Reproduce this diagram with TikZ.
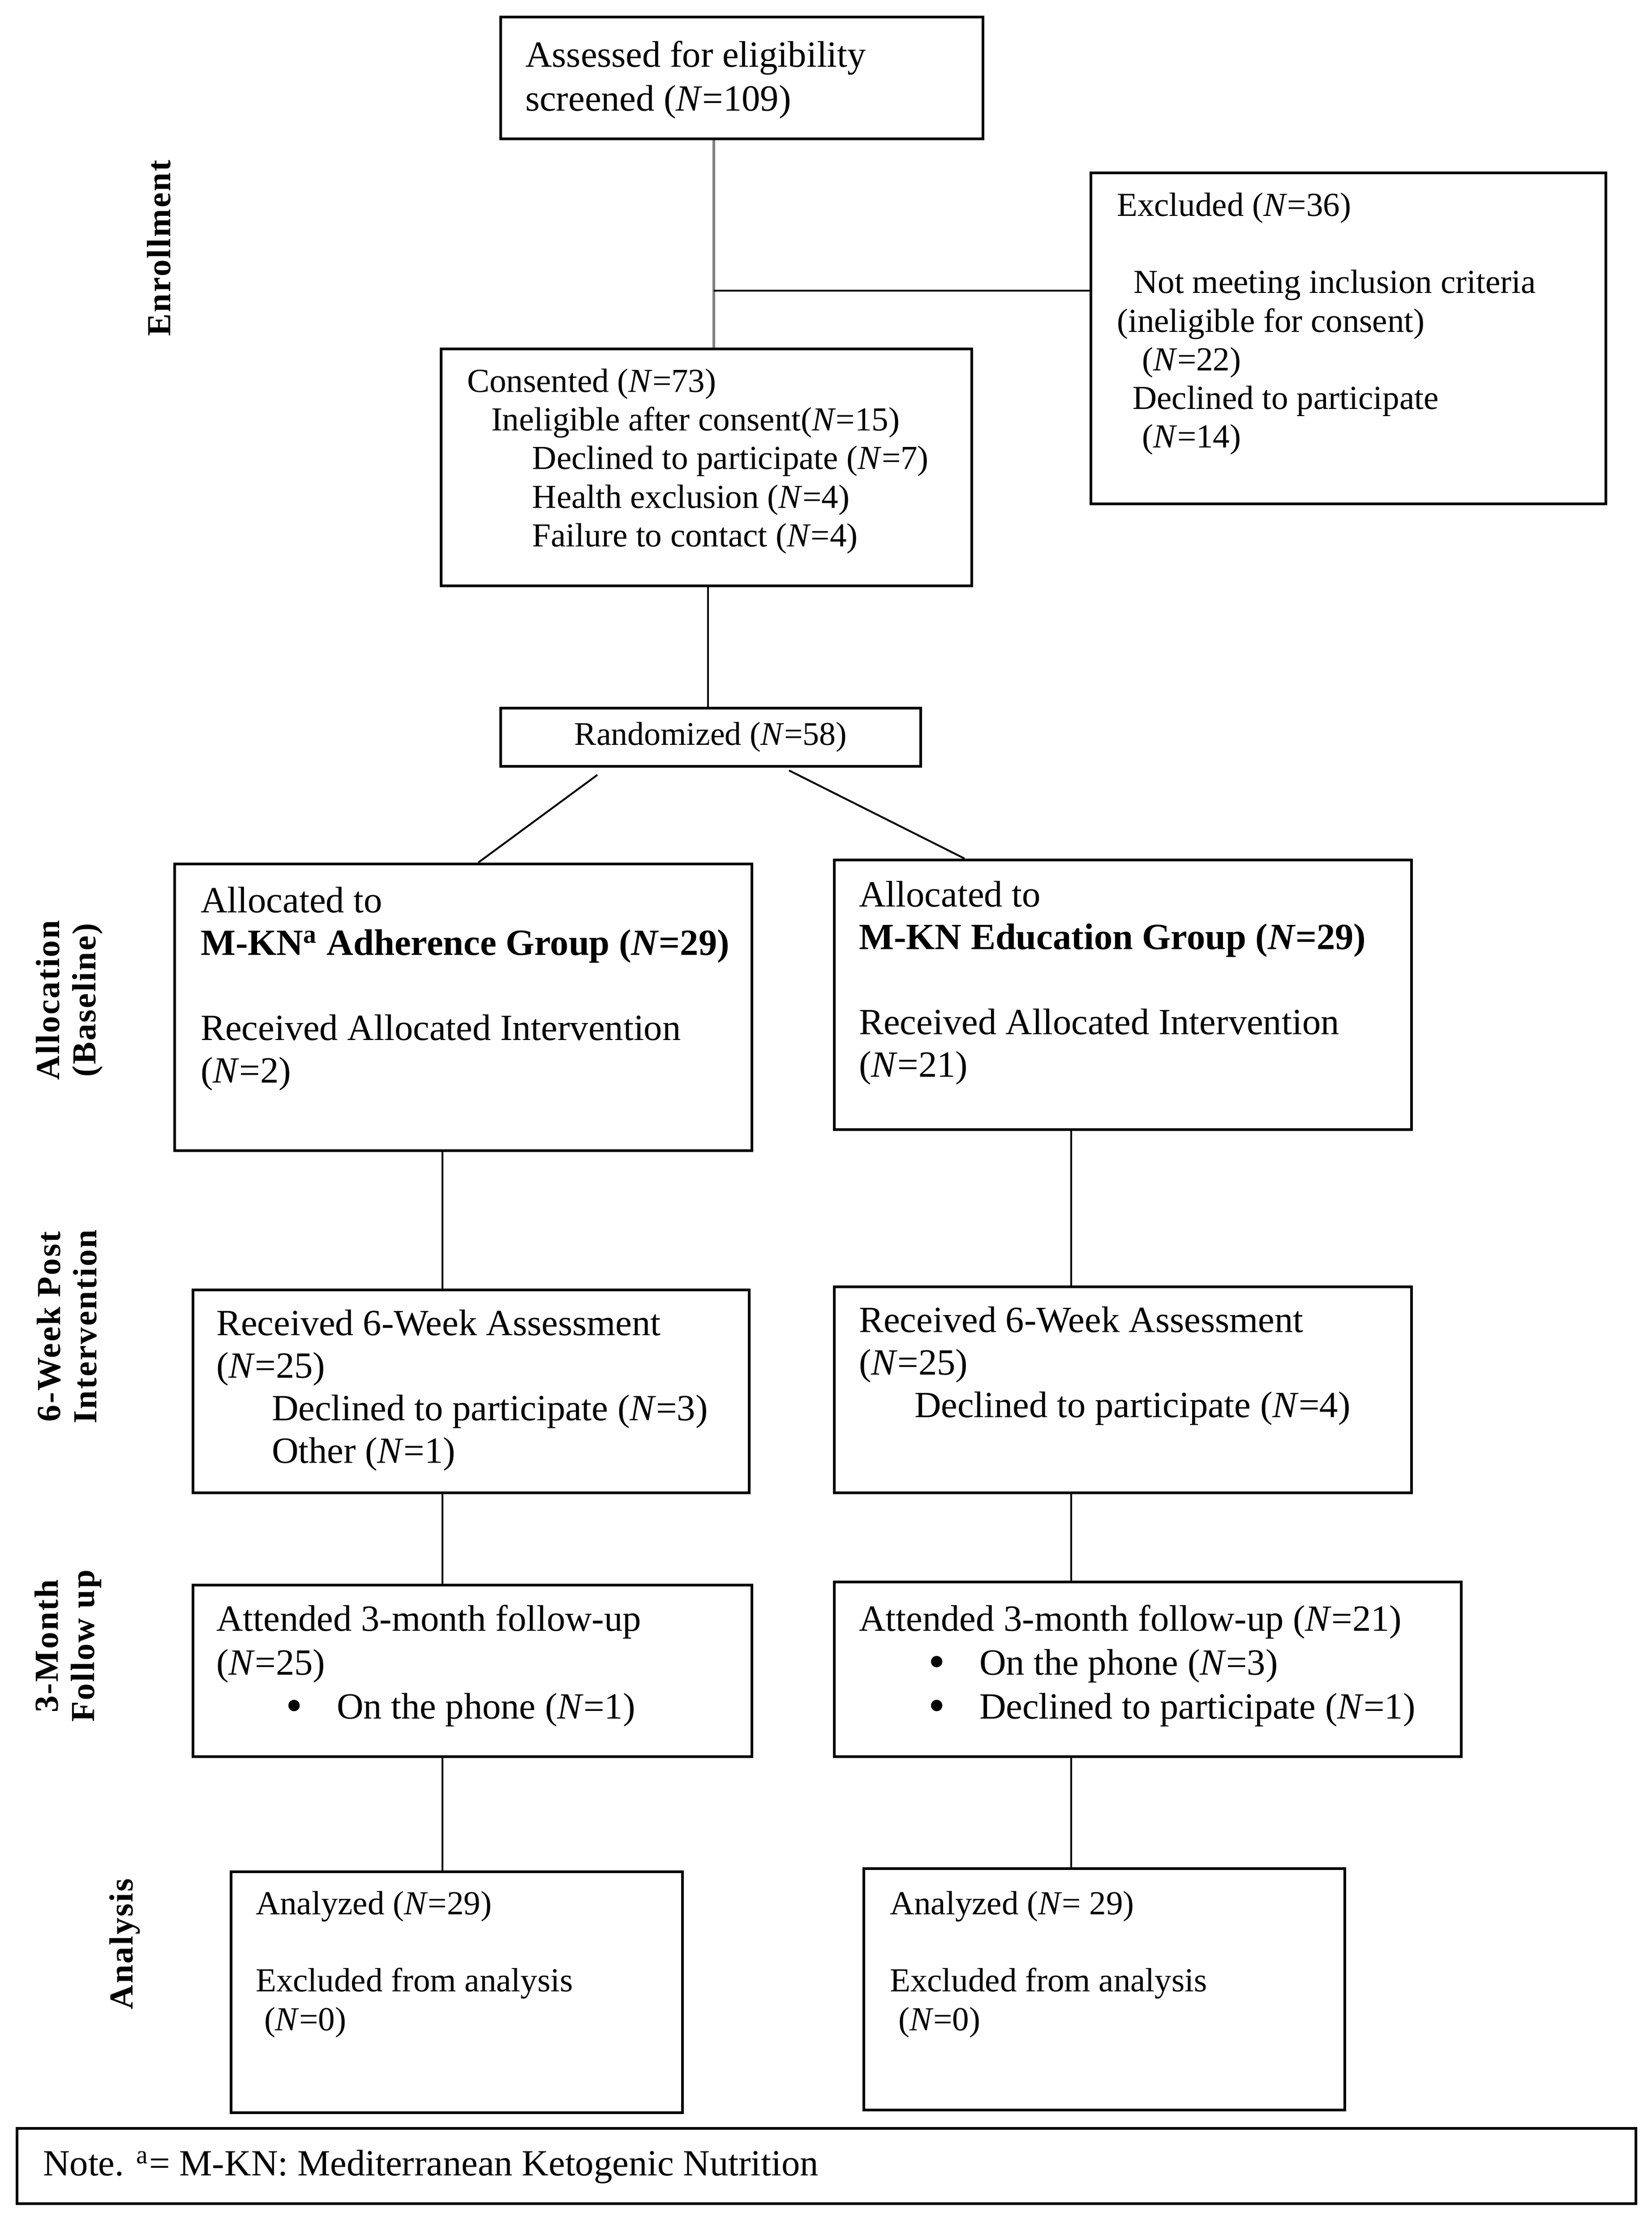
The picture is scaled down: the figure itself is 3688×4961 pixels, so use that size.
\documentclass[tikz,border=0pt]{standalone}
\usepackage{fontspec}
\setmainfont{Liberation Serif}
\newfontfamily\sidefont[LetterSpace=4]{Liberation Serif}
\usetikzlibrary{fit,calc}
\newcommand{\NN}{\textit{N}}
\newcommand{\bul}{\makebox[18.2pt][l]{\raisebox{-1pt}{\fontsize{17}{15}\selectfont\textbullet}}}
\begin{document}
\begin{tikzpicture}[x=0.16pt,y=-0.16pt,
  box/.style={draw, line width=1pt, inner sep=0pt, rectangle},
  conn/.style={line width=0.65pt},
  txt/.style={anchor=north west, inner sep=0pt, align=left},
  fa/.style={font=\fontsize{12}{13.8}\selectfont},
  fb/.style={font=\fontsize{13.2}{15.2}\selectfont},
  sidelab/.style={rotate=90, align=center, inner sep=0pt, font=\sidefont\bfseries\fontsize{12}{13}\selectfont}]
\fill[white] (0,0) rectangle (3688,4961);
\useasboundingbox (0,0) rectangle (3688,4961);

% boxes
\node[box, fit={(1118,38) (2195,310)}] (assess) {};
\node[box, fit={(2436,386) (3586,1125)}] (excl) {};
\node[box, fit={(985,779) (2170,1308)}] (cons) {};
\node[box, fit={(1118,1581) (2056,1711)}] (rand) {};
\node[box, fit={(390,1929) (1679,2569)}] (allocL) {};
\node[box, fit={(1863,1920) (3152,2522)}] (allocR) {};
\node[box, fit={(431,2880) (1673,3333)}] (sixL) {};
\node[box, fit={(1863,2873) (3152,3333)}] (sixR) {};
\node[box, fit={(431,3539) (1679,3922)}] (thrL) {};
\node[box, fit={(1863,3532) (3263,3922)}] (thrR) {};
\node[box, fit={(516,4179) (1524,4717)}] (anaL) {};
\node[box, fit={(1929,4172) (3003,4711)}] (anaR) {};
\node[box, fit={(38,4752) (3653,4920)}] (note) {};

% texts
\node[txt, font=\fontsize{13.2}{15.7}\selectfont] (assessT) at (1172,90) {Assessed for eligibility\\screened (\NN=109)};
\node[txt, fa] (exclT) at (2493,429) {Excluded (\NN=36)\\[13.8pt]
\hspace*{6pt}Not meeting inclusion criteria\\
(ineligible for consent)\\
\hspace*{9pt}(\NN=22)\\
\hspace*{5.6pt}Declined to participate\\
\hspace*{9pt}(\NN=14)};
\node[txt, fa] (consT) at (1042,822) {Consented (\NN=73)\\
\hspace*{8.6pt}Ineligible after consent(\NN=15)\\
\hspace*{23.3pt}Declined to participate (\NN=7)\\
\hspace*{23.3pt}Health exclusion (\NN=4)\\
\hspace*{23.3pt}Failure to contact (\NN=4)};
\node[inner sep=0pt, font=\fontsize{11.8}{13}\selectfont] (randT) at (rand.center) {Randomized (\NN=58)};
\node[txt, fb] (allocLT) at (447,1979) {Allocated to\\
\textbf{M-KN\textsuperscript{a} Adherence Group (\NN=29)}\\[15.2pt]
Received Allocated Intervention\\
(\NN=2)};
\node[txt, fb] (allocRT) at (1917,1966) {Allocated to\\
\textbf{M-KN Education Group (\NN=29)}\\[15.2pt]
Received Allocated Intervention\\
(\NN=21)};
\node[txt, fb] (sixLT) at (482,2923) {Received 6-Week Assessment\\
(\NN=25)\\
\hspace*{19.8pt}Declined to participate (\NN=3)\\
\hspace*{19.8pt}Other (\NN=1)};
\node[txt, fb] (sixRT) at (1917,2916) {Received 6-Week Assessment\\
(\NN=25)\\
\hspace*{19.8pt}Declined to participate (\NN=4)};
\node[txt, font=\fontsize{13.2}{15.7}\selectfont] (thrLT) at (482,3582) {Attended 3-month follow-up\\
(\NN=25)\\
\hspace*{24.8pt}\bul On the phone (\NN=1)};
\node[txt, font=\fontsize{13.2}{15.7}\selectfont] (thrRT) at (1917,3582) {Attended 3-month follow-up (\NN=21)\\
\hspace*{24.8pt}\bul On the phone (\NN=3)\\
\hspace*{24.8pt}\bul Declined to participate (\NN=1)};
\node[txt, fa] (anaLT) at (570,4221) {Analyzed (\NN=29)\\[13.8pt]
Excluded from analysis\\
\hspace*{3pt}(\NN=0)};
\node[txt, fa] (anaRT) at (1986,4221) {Analyzed (\NN= 29)\\[13.8pt]
Excluded from analysis\\
\hspace*{3pt}(\NN=0)};
\node[anchor=west, inner sep=0pt, fb] (noteT) at (95,4838) {Note. \textsuperscript{a}= M-KN: Mediterranean Ketogenic Nutrition};

% side labels
\node[sidelab] (s1) at (355,554) {Enrollment};
\node[sidelab] (s2) at (155,2233) {Allocation\\(Baseline)};
\node[sidelab] (s3) at (149,2962) {6-Week Post\\Intervention};
\node[sidelab] (s4) at (152,3675) {3-Month\\Follow up};
\node[sidelab] (s5) at (279,4340) {Analysis};

% connectors
\coordinate (j1) at (1594,649);
\coordinate (cx) at (1581,0);
\coordinate (lx) at (988,0);
\coordinate (rx) at (2392,0);
\draw[gray, line width=1pt] (assess.south -| j1) -- (cons.north -| j1);
\draw[conn] (j1) -- (excl.west |- j1);
\draw[conn] (cons.south -| cx) -- (rand.north -| cx);
\draw[conn] ($(rand.south west)+(219,16)$) -- ($(allocL.north west)+(681,0)$);
\draw[conn] ($(rand.south west)+(647,6)$) -- ($(allocR.north west)+(294,0)$);
\draw[conn] (allocL.south -| lx) -- (sixL.north -| lx);
\draw[conn] (sixL.south -| lx) -- (thrL.north -| lx);
\draw[conn] (thrL.south -| lx) -- (anaL.north -| lx);
\draw[conn] (allocR.south -| rx) -- (sixR.north -| rx);
\draw[conn] (sixR.south -| rx) -- (thrR.north -| rx);
\draw[conn] (thrR.south -| rx) -- (anaR.north -| rx);
\end{tikzpicture}
\end{document}
